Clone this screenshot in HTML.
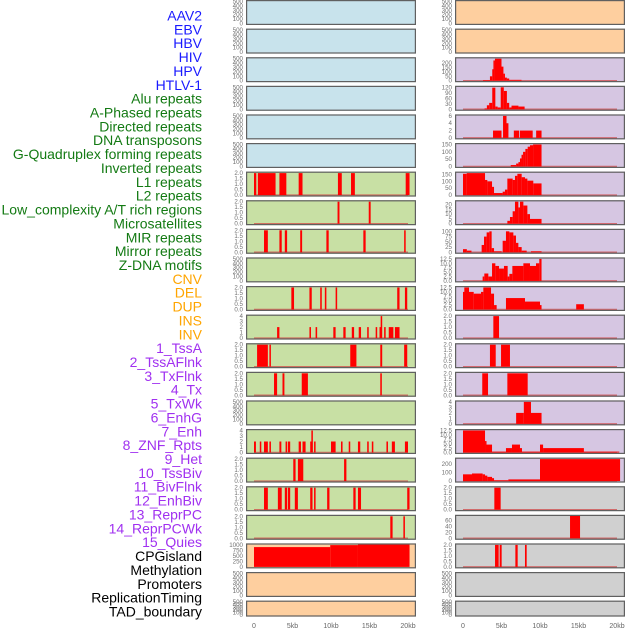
<!DOCTYPE html>
<html><head><meta charset="utf-8"><style>
html,body{margin:0;padding:0;background:#fff;width:630px;height:630px;overflow:hidden}
svg{display:block;font-family:"Liberation Sans",sans-serif}
</style></head><body>
<svg id="chart" width="630" height="630" viewBox="0 0 630 630" xmlns="http://www.w3.org/2000/svg"></svg>
<script>
const labelNames=["AAV2","EBV","HBV","HIV","HPV","HTLV-1","Alu repeats","A-Phased repeats","Directed repeats","DNA transposons","G-Quadruplex forming repeats","Inverted repeats","L1 repeats","L2 repeats","Low_complexity A/T rich regions","Microsatellites","MIR repeats","Mirror repeats","Z-DNA motifs","CNV","DEL","DUP","INS","INV","1_TssA","2_TssAFlnk","3_TxFlnk","4_Tx","5_TxWk","6_EnhG","7_Enh","8_ZNF_Rpts","9_Het","10_TssBiv","11_BivFlnk","12_EnhBiv","13_ReprPC","14_ReprPCWk","15_Quies","CPGisland","Methylation","Promoters","ReplicationTiming","TAD_boundary"];
const labelGroups=[6,13,5,15,5];
const groupColors=["#1a1aff","#137a13","#ffa500","#a030f0","#000000"];
const xTicksKb=[0,5,10,15,20];
const xTickLabels=["0","5kb","10kb","15kb","20kb"];
const T500=[0,100,200,300,400,500];
const T2=[0,0.5,1,1.5,2];
// left column panels
const leftBg=["b","b","b","b","b","b","g","g","g","g","g","g","g","g","g","g","g","g","g","o","o","o"];
const leftYmax=[500,500,500,500,500,500,2,2,2,500,2,4,2,2,500,4,2,2,2,1000,500,500];
const leftTicks=[T500,T500,T500,T500,T500,T500,T2,T2,T2,T500,T2,[0,1,2,3,4],T2,T2,T500,[0,1,2,3,4],T2,T2,T2,[0,250,500,750,1000],T500,T500];
const leftSegs=[[],[],[],[],[],[],
[[0,0.3,2],[0.5,2.8,2],[3.3,4.2,2],[5.8,6.3,2],[10.9,11.4,2],[12.6,13.1,2],[19.7,20.2,2]],
[[10.85,11.1,2],[14.9,15.15,2]],
[[1.3,1.8,2],[3.3,3.6,2],[4.0,4.3,2],[6.0,6.25,2],[9.4,9.7,2],[14.2,14.5,2],[19.5,19.7,2]],
[],
[[4.85,5.2,2],[7.2,7.5,2],[8.6,8.8,2],[9.2,9.4,2],[10.6,10.8,2],[18.6,18.9,2],[19.6,19.9,2]],
[[3.0,3.3,2],[7.2,7.4,2],[8.0,8.2,2],[10.3,10.6,2],[11.6,11.9,2],[12.7,13.0,2],[13.6,13.9,2],[14.7,14.9,2],[15.8,16.0,2],[16.3,16.5,2],[16.45,16.65,4],[16.9,17.1,2],[17.5,18.1,2],[18.3,18.9,2]],
[[0.4,1.8,2],[2.0,2.15,2],[12.5,13.3,2],[16.4,16.65,2],[19.5,19.9,2]],
[[2.6,3.0,2],[3.7,3.95,2],[6.2,7.0,2],[16.4,16.6,2]],
[],
[[0,0.25,2],[0.75,0.95,2],[1.3,1.8,2],[2.0,2.2,2],[3.3,3.55,2],[4.1,4.3,2],[4.4,4.7,2],[5.8,6.1,2],[6.3,6.7,2],[7.3,7.6,2],[7.45,7.6,4],[7.8,8.0,2],[10.0,10.6,2],[11.3,11.5,2],[12.3,12.5,2],[13.5,13.8,2],[14.7,14.9,2],[15.3,15.5,2],[17.2,17.4,2],[17.9,18.3,2],[19.6,20.0,2]],
[[5.1,5.4,2],[5.7,6.4,2],[11.7,12.0,2]],
[[1.3,1.8,2],[3.1,3.6,2],[4.0,4.3,2],[4.4,4.7,2],[5.3,5.7,2],[7.3,7.6,2],[7.8,8.0,2],[9.5,9.8,2],[12.9,13.2,2],[13.5,13.9,2],[19.9,20.2,2]],
[[17.7,18.0,2],[19.4,19.6,2]],
[[0,9.9,900],[9.9,13.5,990],[13.5,20.2,1020]],
[],[]];
const leftHasBase=[0,0,0,0,0,0,1,1,1,0,1,1,1,1,0,1,1,1,1,0,0,0];
// right column panels
const rightBg=["o","o","p","p","p","p","p","p","p","p","p","p","p","p","p","p","p","y","y","y","y","y"];
const rightYmax=[500,500,250,120,6,150,160,23,105,12.5,12.5,2,2,2,4,12.5,260,2,75,2,500,500];
const rightTicks=[T500,T500,[0,50,100,150,200],[0,30,60,90,120],[0,2,4,6],[0,50,100,150],[0,50,100,150],[0,5,10,15,20],[0,25,50,75,100],[0,2.5,5,7.5,10,12.5],[0,2.5,5,7.5,10,12.5],T2,T2,T2,[0,1,2,3,4],[0,2.5,5,7.5,10,12.5],[0,100,200],T2,[0,20,40,60],T2,T500,T500];
const rightSegs=[[],[],
[[2.6,3.5,8],[3.5,3.8,50],[3.8,3.95,130],[3.95,4.15,230],[4.15,5.0,250],[5.0,5.25,160],[5.25,5.45,80],[5.45,5.7,35],[5.7,6.0,25],[6.0,7.6,10]],
[[2.8,3.1,5],[3.1,3.4,22],[3.4,3.8,35],[3.8,4.2,118],[4.2,4.5,15],[4.5,4.9,10],[4.9,5.3,120],[5.3,5.7,100],[5.7,6.0,35],[6.0,6.3,10],[6.3,7.2,20],[7.2,8.0,15]],
[[3.9,5.0,2],[5.2,5.65,6],[5.65,5.9,4],[6.6,7.3,2],[7.4,9.05,2],[9.5,10.2,2]],
[[6.2,6.9,10],[6.9,7.2,20],[7.2,7.4,30],[7.4,7.6,55],[7.6,7.8,80],[7.8,8.1,100],[8.1,8.4,120],[8.4,8.7,135],[8.7,9.1,145],[9.1,10.2,150]],
[[0,0.48,155],[0.48,2.86,160],[2.86,3.16,110],[3.16,3.77,100],[3.77,4.03,60],[4.03,5.15,15],[5.15,5.45,25],[5.45,5.76,40],[5.76,6.45,120],[6.45,6.75,110],[6.75,7.06,140],[7.06,7.62,155],[7.62,8.05,130],[8.05,8.36,120],[8.36,9.13,105],[9.13,10.2,85]],
[[5.76,6.1,3],[6.1,6.45,7],[6.45,6.75,13],[6.75,7.19,23],[7.19,7.4,17],[7.4,7.84,23],[7.84,8.36,19],[8.36,8.7,10],[8.7,9.48,5],[9.48,10.2,5]],
[[0,0.5,15],[0.5,1.1,8],[2.42,2.73,35],[2.73,3.07,75],[3.07,3.42,95],[3.42,3.72,100],[3.72,4.03,20],[4.03,5.02,5],[5.15,5.58,55],[5.58,6.02,100],[6.02,6.54,95],[6.54,6.88,80],[6.88,7.19,45],[7.19,7.62,25],[7.62,8.27,8],[8.83,10.2,5]],
[[2.55,2.77,2.5],[2.77,3.29,4.2],[3.29,3.77,2.5],[3.77,4.2,10],[4.2,4.68,8.5],[4.68,5.32,7],[5.32,5.8,8.5],[5.8,6.02,2.5],[6.02,6.41,4],[6.41,7.84,8.5],[7.84,8.7,10],[8.7,9.48,8.5],[9.48,9.91,10],[9.91,10.2,12.5]],
[[0,0.17,10],[0.17,0.78,12.5],[0.78,1.39,10],[1.39,2.34,9],[2.34,2.64,10],[2.64,3.64,12.5],[3.64,4.03,9],[4.03,4.37,2.5],[5.58,8.05,6.5],[8.05,10.0,4.5],[10.0,10.2,2.5],[14.7,15.7,3]],
[[3.94,4.68,2]],
[[3.5,4.25,2],[4.94,6.1,2]],
[[2.5,3.25,2],[5.76,8.4,2]],
[[6.9,7.9,2],[7.9,8.83,4],[8.83,10.2,2]],
[[0,2.86,12.5],[2.86,2.99,6.5],[2.99,3.77,4.5],[3.77,5.58,0.5],[5.58,6.36,2.5],[6.36,7.4,4.5],[7.4,7.66,2.5],[7.66,10.0,0.5],[10.0,10.4,4.5],[10.4,15.7,2.5],[15.7,20.3,0.5]],
[[0,1.17,80],[1.17,2.55,90],[2.55,2.86,80],[2.86,3.16,65],[3.16,3.77,50],[3.77,4.03,35],[4.03,5.89,10],[5.89,10.0,20],[10.0,20.4,260]],
[[4.07,4.89,2]],
[[13.9,15.2,77]],
[[4.16,4.63,2],[4.76,5.02,2],[6.8,7.1,2],[8.05,8.27,2]],
[],[]];
const rightHasBase=[0,0,1,1,1,1,1,1,1,1,1,1,1,1,1,1,1,1,1,1,0,0];
</script>
<script>
const NS="http://www.w3.org/2000/svg";
const svg=document.getElementById("chart");
const bgColors={b:"#c8e3ec",g:"#c8e0a4",o:"#fecf9f",p:"#d6c6e2",y:"#d0d0d0"};
const ROWH=28.6,PH=25,PW=170;
function mk(tag,attrs,parent){const e=document.createElementNS(NS,tag);for(const k in attrs)e.setAttribute(k,attrs[k]);(parent||svg).appendChild(e);return e;}
// labels
let idx=0;
labelGroups.forEach((n,g)=>{for(let i=0;i<n;i++){const t=mk("text",{x:202,y:20.5+idx*13.86,"text-anchor":"end","font-size":"14",fill:groupColors[g]});


t.textContent=labelNames[idx];idx++;}});
function drawColumn(x0,zeroX,bgs,ymaxs,ticks,segs,bases,side){
  const sx=kb=>zeroX+kb*7.7;
  bgs.forEach((bg,i)=>{
    const top=i*ROWH, h=(i===21)?16:PH;
    const g=mk("g",{});
    
    
    mk("rect",{x:x0,y:top,width:PW,height:h,fill:bgColors[bg]},g);
    const y0=top+h-1.5, yTop=top+1.5;
    const sy=v=>y0-(Math.min(v,ymaxs[i]*1.04)/ymaxs[i])*(y0-yTop);
    if(bases[i]){const b=mk("line",{x1:sx(0),x2:sx(20),y1:y0,y2:y0,stroke:"#d04040","stroke-width":1.5,"stroke-opacity":0.7},g);
      }
    segs[i].forEach((s,j)=>{const top2=Math.max(sy(s[2]),top+0.8);
      const r=mk("rect",{x:sx(s[0]),y:top2,width:Math.max(sx(s[1])-sx(s[0]),1.5),height:y0-top2,fill:"#ff0000"},g);
      
      });
    mk("rect",{x:x0+0.6,y:top+0.6,width:PW-1.2,height:h-1.2,fill:"none",stroke:"#606060","stroke-width":1.2},g);
    ticks[i].forEach(v=>{const t=mk("text",{x:x0-3,y:sy(v)+2,"text-anchor":"end","font-size":"6.2",fill:"#707070"},g);
      
      const dec=ticks[i].some(u=>u%1!==0);t.textContent=dec?v.toFixed(1):String(v);});
  });
  xTicksKb.forEach((k,j)=>{const t=mk("text",{x:sx(k),y:628,"text-anchor":"middle","font-size":"7",fill:"#666"});
    t.textContent=xTickLabels[j];});
}
drawColumn(246,254,leftBg,leftYmax,leftTicks,leftSegs,leftHasBase,'left');
drawColumn(455,463,rightBg,rightYmax,rightTicks,rightSegs,rightHasBase,'right');
</script>
</body></html>
